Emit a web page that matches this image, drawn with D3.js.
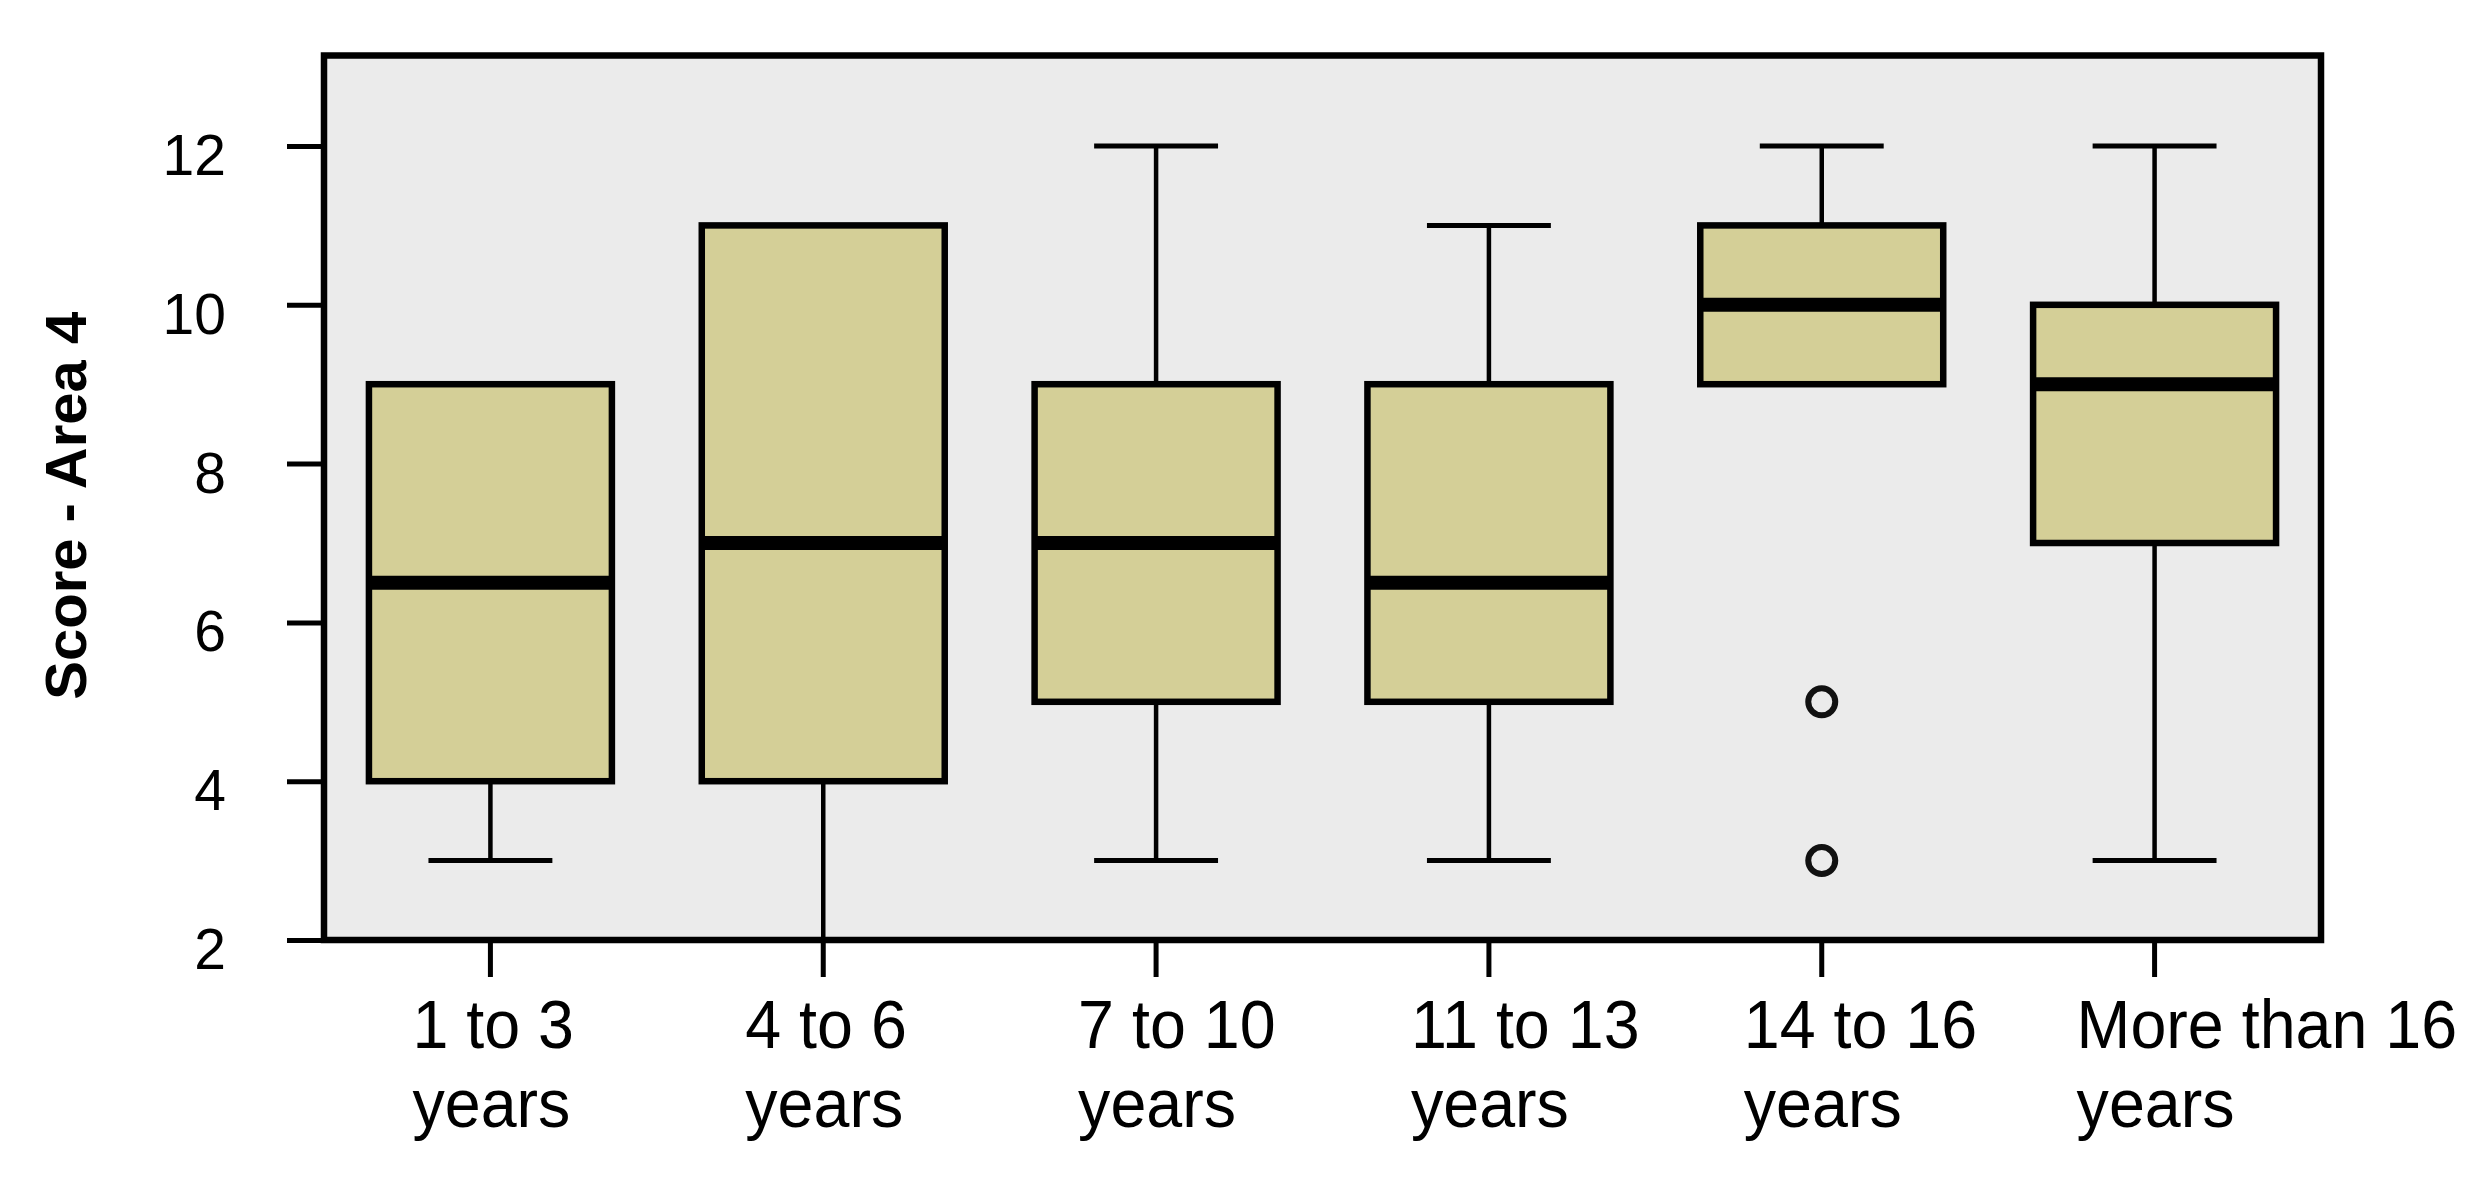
<!DOCTYPE html>
<html>
<head>
<meta charset="utf-8">
<script src="https://cdn.jsdelivr.net/npm/d3@7"></script>
<style>
  html, body { margin: 0; padding: 0; background: #ffffff; }
  svg { display: block; }
  text { font-family: "Liberation Sans", Arial, sans-serif; fill: #000; }
</style>
</head>
<body>
<svg id="chart" width="2488" height="1192"></svg>
<script>
// ---- data ----
const categories = ["1 to 3 years", "4 to 6 years", "7 to 10 years", "11 to 13 years", "14 to 16 years", "More than 16 years"];
const labelLines = [["1 to 3", "years"], ["4 to 6", "years"], ["7 to 10", "years"], ["11 to 13", "years"], ["14 to 16", "years"], ["More than 16", "years"]];
const whiskerLow  = [3, 2, 3, 3, 9, 3];
const q1          = [4, 4, 5, 5, 9, 7];
const median      = [6.5, 7, 7, 6.5, 10, 9];
const q3          = [9, 11, 9, 9, 11, 10];
const whiskerHigh = [9, 11, 12, 11, 12, 12];
const outliers    = [[], [], [], [], [5, 3], []];
const yTicks      = [2, 4, 6, 8, 10, 12];
const yLabel      = "Score - Area 4";

// ---- layout ----
const svg = d3.select("#chart");
const plotL = 324, plotR = 2321, plotT = 55.5, plotB = 940;

const x = d3.scaleBand().domain(categories).range([plotL, plotR]).padding(0);
const y = d3.scaleLinear().domain([2, 13.14]).range([plotB, plotT]);

const boxW = x.step() * 0.73;
const capW = boxW * 0.51;

const rows = categories.map((c, i) => ({
  cat: c, lo: whiskerLow[i], q1: q1[i], med: median[i], q3: q3[i], hi: whiskerHigh[i], out: outliers[i]
}));

// plot background
svg.append("rect")
  .attr("x", plotL).attr("y", plotT)
  .attr("width", plotR - plotL).attr("height", plotB - plotT)
  .attr("fill", "#ebebeb");

const g = svg.append("g");
const boxes = g.selectAll("g.box").data(rows).join("g").attr("class", "box")
  .attr("transform", d => `translate(${x(d.cat) + x.bandwidth() / 2},0)`);

// whiskers
boxes.filter(d => d.hi > d.q3).append("line")
  .attr("x1", 0).attr("x2", 0).attr("y1", d => y(d.q3)).attr("y2", d => y(d.hi))
  .attr("stroke", "#000").attr("stroke-width", 4.5);
boxes.filter(d => d.hi > d.q3).append("line")
  .attr("x1", -capW / 2).attr("x2", capW / 2).attr("y1", d => y(d.hi)).attr("y2", d => y(d.hi))
  .attr("stroke", "#000").attr("stroke-width", 5);
boxes.filter(d => d.lo < d.q1).append("line")
  .attr("x1", 0).attr("x2", 0).attr("y1", d => y(d.q1)).attr("y2", d => y(d.lo))
  .attr("stroke", "#000").attr("stroke-width", 4.5);
boxes.filter(d => d.lo < d.q1).append("line")
  .attr("x1", -capW / 2).attr("x2", capW / 2).attr("y1", d => y(d.lo)).attr("y2", d => y(d.lo))
  .attr("stroke", "#000").attr("stroke-width", 5);

// boxes
boxes.append("rect")
  .attr("x", -boxW / 2).attr("width", boxW)
  .attr("y", d => y(d.q3)).attr("height", d => y(d.q1) - y(d.q3))
  .attr("fill", "#d4cf97").attr("stroke", "#000").attr("stroke-width", 6.5);

// medians
boxes.append("line")
  .attr("x1", -boxW / 2).attr("x2", boxW / 2)
  .attr("y1", d => y(d.med)).attr("y2", d => y(d.med))
  .attr("stroke", "#000").attr("stroke-width", 14);

// outliers
boxes.selectAll("circle").data(d => d.out).join("circle")
  .attr("cx", 0).attr("cy", v => y(v)).attr("r", 13.5)
  .attr("fill", "none").attr("stroke", "#111").attr("stroke-width", 6);

// frame
svg.append("rect")
  .attr("x", plotL).attr("y", plotT)
  .attr("width", plotR - plotL).attr("height", plotB - plotT)
  .attr("fill", "none").attr("stroke", "#000").attr("stroke-width", 6.5);

// y axis
const yAxis = svg.append("g").attr("transform", `translate(${plotL},0)`)
  .call(d3.axisLeft(y).tickValues(yTicks).tickSize(37).tickPadding(61).tickFormat(d3.format("d")));
yAxis.select(".domain").remove();
yAxis.selectAll(".tick line").attr("stroke", "#000").attr("stroke-width", 5);
yAxis.selectAll(".tick text").attr("font-size", 57).attr("dy", "0.5em")
  .style("font-family", '"Liberation Sans", Arial, sans-serif');

// x axis
const xAxis = svg.append("g").attr("transform", `translate(0,${plotB})`)
  .call(d3.axisBottom(x).tickSize(37).tickFormat(""));
xAxis.select(".domain").remove();
xAxis.selectAll(".tick line").attr("stroke", "#000").attr("stroke-width", 5);
xAxis.selectAll(".tick text").remove();
xAxis.selectAll(".tick").each(function(d, i) {
  const t = d3.select(this).append("text")
    .attr("transform", "translate(-78,0) scale(0.95,1)")
    .attr("text-anchor", "start")
    .attr("font-size", 68)
    .style("font-family", '"Liberation Sans", Arial, sans-serif')
    .attr("fill", "#000");
  labelLines[i].forEach((line, j) => {
    t.append("tspan").attr("x", 0).attr("y", 108 + j * 79).text(line);
  });
});

// y axis title
svg.append("text")
  .attr("transform", `translate(86,${(plotT + plotB) / 2 + 8}) rotate(-90)`)
  .attr("text-anchor", "middle")
  .attr("font-size", 58)
  .attr("font-weight", "bold")
  .text(yLabel);
</script>
</body>
</html>
